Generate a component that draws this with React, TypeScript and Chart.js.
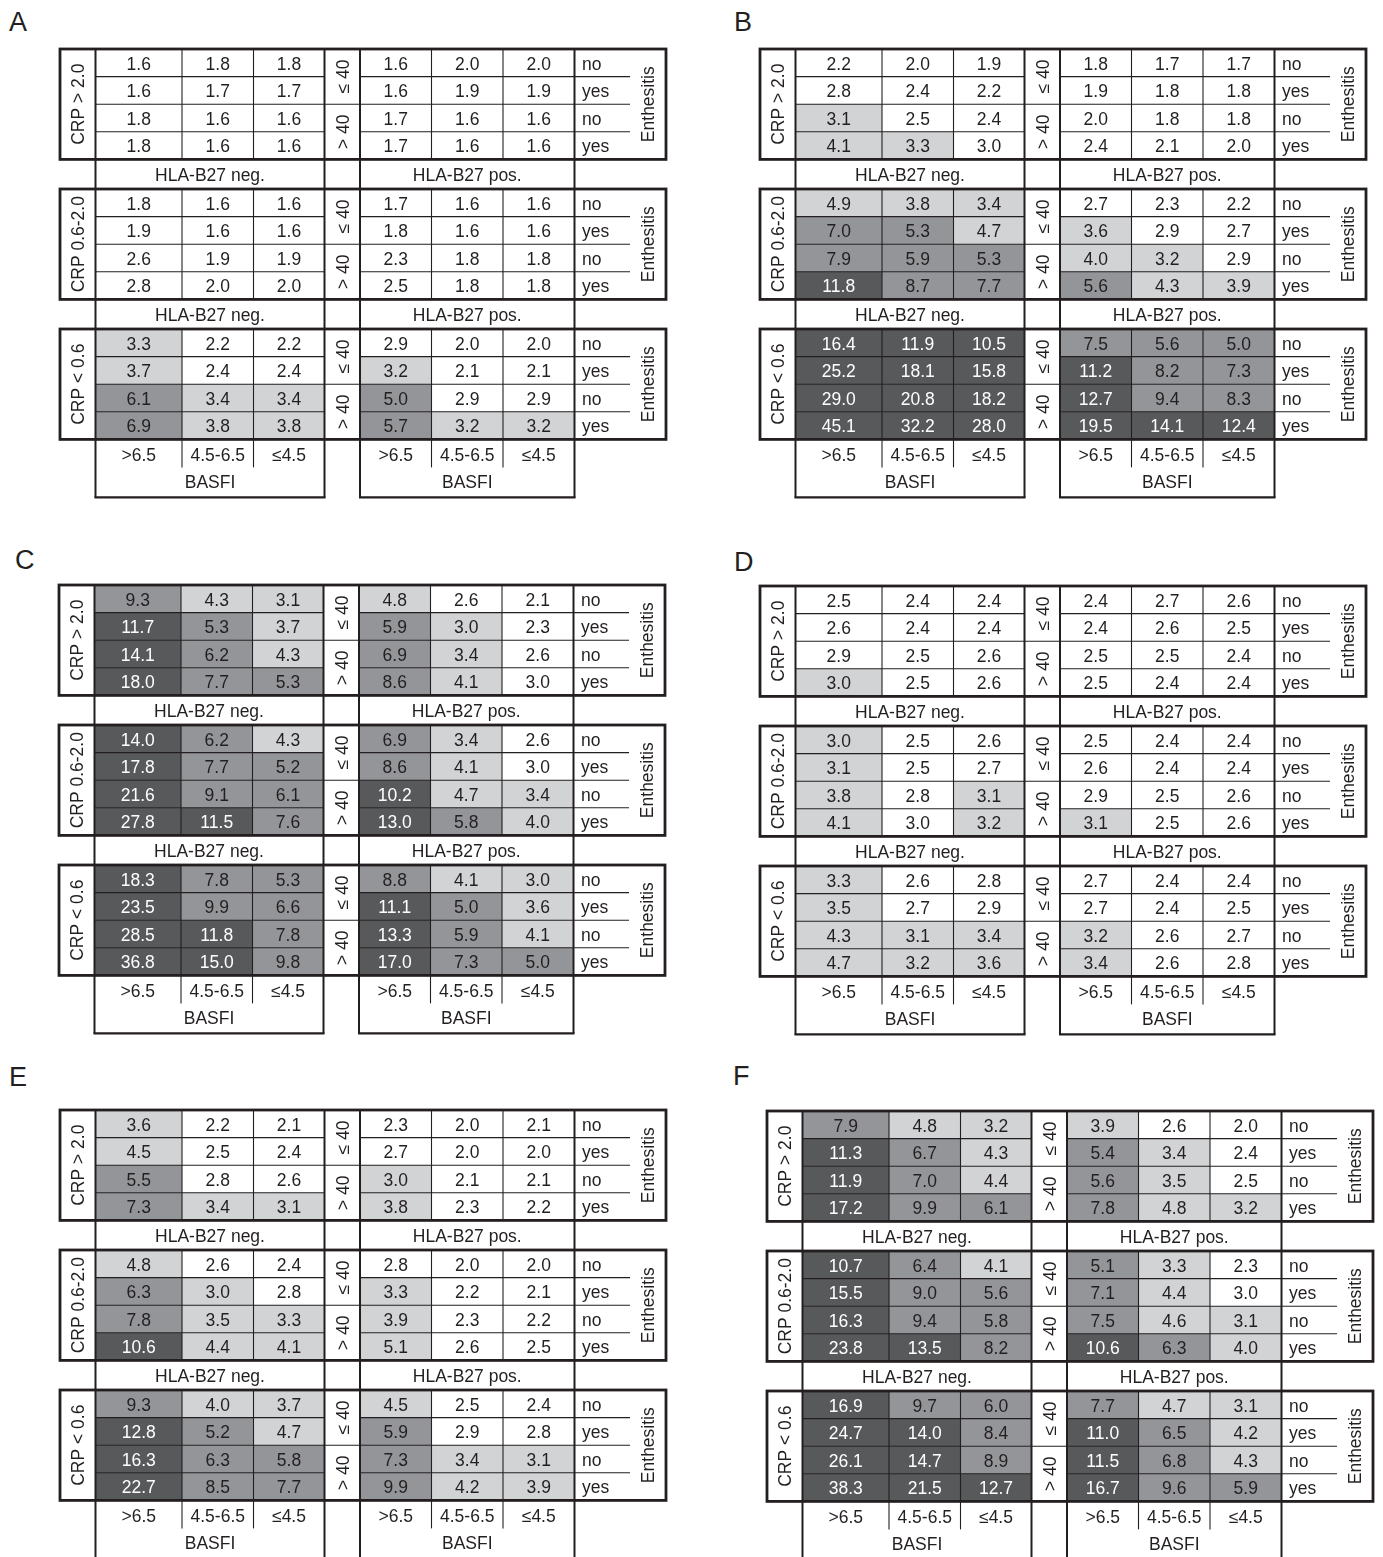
import React, { useEffect, useRef } from "react";
import { Chart, registerables } from "chart.js";

Chart.register(...registerables);

// ---------------- labels ----------------
const PANEL_LETTERS = ["A", "B", "C", "D", "E", "F"];
const CRP_LABELS = ["CRP > 2.0", "CRP 0.6-2.0", "CRP < 0.6"];
const HLA_LABELS = ["HLA-B27 neg.", "HLA-B27 pos."];
const AGE_LABELS = ["\u2264 40", "> 40"];
const ENTHESITIS_LABELS = ["no", "yes", "no", "yes"];
const ENTHESITIS_TITLE = "Enthesitis";
const BASFI_TICKS = [">6.5", "4.5-6.5", "\u22644.5"];
const BASFI_TITLE = "BASFI";

// ---------------- data ----------------
// 12 rows: CRP > 2.0 (4 rows), CRP 0.6-2.0 (4 rows), CRP < 0.6 (4 rows)
// rows within a block: age<=40 no, age<=40 yes, age>40 no, age>40 yes
// 6 columns: HLA-B27 neg (>6.5, 4.5-6.5, <=4.5), HLA-B27 pos (>6.5, 4.5-6.5, <=4.5)
const valuesA = [
  [1.6, 1.8, 1.8, 1.6, 2.0, 2.0],
  [1.6, 1.7, 1.7, 1.6, 1.9, 1.9],
  [1.8, 1.6, 1.6, 1.7, 1.6, 1.6],
  [1.8, 1.6, 1.6, 1.7, 1.6, 1.6],
  [1.8, 1.6, 1.6, 1.7, 1.6, 1.6],
  [1.9, 1.6, 1.6, 1.8, 1.6, 1.6],
  [2.6, 1.9, 1.9, 2.3, 1.8, 1.8],
  [2.8, 2.0, 2.0, 2.5, 1.8, 1.8],
  [3.3, 2.2, 2.2, 2.9, 2.0, 2.0],
  [3.7, 2.4, 2.4, 3.2, 2.1, 2.1],
  [6.1, 3.4, 3.4, 5.0, 2.9, 2.9],
  [6.9, 3.8, 3.8, 5.7, 3.2, 3.2],
];
const shadesA = ["000000", "000000", "000000", "000000", "000000", "000000", "000000", "000000", "100000", "100100", "211200", "211211"];

const valuesB = [
  [2.2, 2.0, 1.9, 1.8, 1.7, 1.7],
  [2.8, 2.4, 2.2, 1.9, 1.8, 1.8],
  [3.1, 2.5, 2.4, 2.0, 1.8, 1.8],
  [4.1, 3.3, 3.0, 2.4, 2.1, 2.0],
  [4.9, 3.8, 3.4, 2.7, 2.3, 2.2],
  [7.0, 5.3, 4.7, 3.6, 2.9, 2.7],
  [7.9, 5.9, 5.3, 4.0, 3.2, 2.9],
  [11.8, 8.7, 7.7, 5.6, 4.3, 3.9],
  [16.4, 11.9, 10.5, 7.5, 5.6, 5.0],
  [25.2, 18.1, 15.8, 11.2, 8.2, 7.3],
  [29.0, 20.8, 18.2, 12.7, 9.4, 8.3],
  [45.1, 32.2, 28.0, 19.5, 14.1, 12.4],
];
const shadesB = ["000000", "000000", "100000", "110000", "111000", "221100", "222110", "322211", "333222", "333322", "333322", "333333"];

const valuesC = [
  [9.3, 4.3, 3.1, 4.8, 2.6, 2.1],
  [11.7, 5.3, 3.7, 5.9, 3.0, 2.3],
  [14.1, 6.2, 4.3, 6.9, 3.4, 2.6],
  [18.0, 7.7, 5.3, 8.6, 4.1, 3.0],
  [14.0, 6.2, 4.3, 6.9, 3.4, 2.6],
  [17.8, 7.7, 5.2, 8.6, 4.1, 3.0],
  [21.6, 9.1, 6.1, 10.2, 4.7, 3.4],
  [27.8, 11.5, 7.6, 13.0, 5.8, 4.0],
  [18.3, 7.8, 5.3, 8.8, 4.1, 3.0],
  [23.5, 9.9, 6.6, 11.1, 5.0, 3.6],
  [28.5, 11.8, 7.8, 13.3, 5.9, 4.1],
  [36.8, 15.0, 9.8, 17.0, 7.3, 5.0],
];
const shadesC = ["211100", "321210", "321210", "322210", "321210", "322210", "322311", "332321", "322211", "322321", "332321", "332322"];

const valuesD = [
  [2.5, 2.4, 2.4, 2.4, 2.7, 2.6],
  [2.6, 2.4, 2.4, 2.4, 2.6, 2.5],
  [2.9, 2.5, 2.6, 2.5, 2.5, 2.4],
  [3.0, 2.5, 2.6, 2.5, 2.4, 2.4],
  [3.0, 2.5, 2.6, 2.5, 2.4, 2.4],
  [3.1, 2.5, 2.7, 2.6, 2.4, 2.4],
  [3.8, 2.8, 3.1, 2.9, 2.5, 2.6],
  [4.1, 3.0, 3.2, 3.1, 2.5, 2.6],
  [3.3, 2.6, 2.8, 2.7, 2.4, 2.4],
  [3.5, 2.7, 2.9, 2.7, 2.4, 2.5],
  [4.3, 3.1, 3.4, 3.2, 2.6, 2.7],
  [4.7, 3.2, 3.6, 3.4, 2.6, 2.8],
];
const shadesD = ["000000", "000000", "000000", "100000", "100000", "100000", "101000", "101100", "100000", "100000", "111100", "111100"];

const valuesE = [
  [3.6, 2.2, 2.1, 2.3, 2.0, 2.1],
  [4.5, 2.5, 2.4, 2.7, 2.0, 2.0],
  [5.5, 2.8, 2.6, 3.0, 2.1, 2.1],
  [7.3, 3.4, 3.1, 3.8, 2.3, 2.2],
  [4.8, 2.6, 2.4, 2.8, 2.0, 2.0],
  [6.3, 3.0, 2.8, 3.3, 2.2, 2.1],
  [7.8, 3.5, 3.3, 3.9, 2.3, 2.2],
  [10.6, 4.4, 4.1, 5.1, 2.6, 2.5],
  [9.3, 4.0, 3.7, 4.5, 2.5, 2.4],
  [12.8, 5.2, 4.7, 5.9, 2.9, 2.8],
  [16.3, 6.3, 5.8, 7.3, 3.4, 3.1],
  [22.7, 8.5, 7.7, 9.9, 4.2, 3.9],
];
const shadesE = ["100000", "100000", "200100", "211100", "100000", "210100", "211100", "311100", "211100", "321200", "322211", "322211"];

const valuesF = [
  [7.9, 4.8, 3.2, 3.9, 2.6, 2.0],
  [11.3, 6.7, 4.3, 5.4, 3.4, 2.4],
  [11.9, 7.0, 4.4, 5.6, 3.5, 2.5],
  [17.2, 9.9, 6.1, 7.8, 4.8, 3.2],
  [10.7, 6.4, 4.1, 5.1, 3.3, 2.3],
  [15.5, 9.0, 5.6, 7.1, 4.4, 3.0],
  [16.3, 9.4, 5.8, 7.5, 4.6, 3.1],
  [23.8, 13.5, 8.2, 10.6, 6.3, 4.0],
  [16.9, 9.7, 6.0, 7.7, 4.7, 3.1],
  [24.7, 14.0, 8.4, 11.0, 6.5, 4.2],
  [26.1, 14.7, 8.9, 11.5, 6.8, 4.3],
  [38.3, 21.5, 12.7, 16.7, 9.6, 5.9],
];
const shadesF = ["211100", "321210", "321210", "322211", "321210", "322210", "322211", "332321", "322211", "332321", "332321", "333322"];

const PANEL_VALUES = [valuesA, valuesB, valuesC, valuesD, valuesE, valuesF];
const PANEL_SHADES = [shadesA, shadesB, shadesC, shadesD, shadesE, shadesF];

// ---------------- layout / style ----------------
const SHADE_COLORS = ["#ffffff", "#d1d3d4", "#939598", "#58595b"];
const INK = "#231f20";
const FONT = '"Liberation Sans", Arial, Helvetica, sans-serif';
const FONT_SIZE = 17.5;
const LETTER_SIZE = 27;

// columns: CRP label | neg x3 | age | pos x3 | no/yes | Enthesitis
const COL_W = [35.5, 86.5, 71.5, 71, 35.5, 71.5, 71.5, 71.5, 55.5, 36];
const VALUE_COLS = [1, 2, 3, 5, 6, 7];
const ROW_H = 27.6;
const BAND_H = 29.6;
const TICK_H = 28;
const BASFI_H = 30;
const PAD = 6;
const TEXT_DY = 2;

const PANEL_ORIGINS = [
  [60, 49],
  [760, 49],
  [59, 585],
  [760, 586],
  [60, 1110],
  [767, 1111],
];
const LETTER_POS = [
  [9, 12],
  [734, 12],
  [15, 550],
  [734, 552],
  [9, 1067],
  [733, 1066],
];

const EDGES = COL_W.reduce((acc, w) => {
  acc.push(acc[acc.length - 1] + w);
  return acc;
}, [0] as number[]);
const TOTAL_W = EDGES[EDGES.length - 1];
const BLOCK_H = 4 * ROW_H;
const blockTop = (b: number) => b * (BLOCK_H + BAND_H);
const BLOCKS_END = blockTop(2) + BLOCK_H;
const TOTAL_H = BLOCKS_END + TICK_H + BASFI_H;
const CANVAS_W = Math.round(TOTAL_W + 2 * PAD);
const CANVAS_H = Math.round(TOTAL_H + 2 * PAD);

function buildPoints(p: number) {
  const vals = PANEL_VALUES[p];
  const shades = PANEL_SHADES[p];
  const pts: any[] = [];
  vals.forEach((row, ri) => {
    const b = Math.floor(ri / 4);
    const r = ri % 4;
    row.forEach((v, j) => {
      const col = VALUE_COLS[j];
      pts.push({
        x: (EDGES[col] + EDGES[col + 1]) / 2,
        y: blockTop(b) + (r + 0.5) * ROW_H,
        v,
        s: Number(shades[ri][j]),
        col,
        top: blockTop(b) + r * ROW_H,
      });
    });
  });
  return pts;
}

const tablePlugin = {
  id: "crpTable",
  afterDatasetsDraw(chart: any) {
    const ctx: CanvasRenderingContext2D = chart.ctx;
    const sx = chart.scales.x;
    const sy = chart.scales.y;
    const X = (u: number) => sx.getPixelForValue(u);
    const Y = (u: number) => sy.getPixelForValue(u);
    const pts = chart.data.datasets[0].data as any[];

    const line = (x1: number, y1: number, x2: number, y2: number, w: number) => {
      ctx.beginPath();
      ctx.moveTo(X(x1), Y(y1));
      ctx.lineTo(X(x2), Y(y2));
      ctx.lineWidth = w;
      ctx.strokeStyle = INK;
      ctx.stroke();
    };
    const text = (t: string, x: number, y: number, color: string, align: CanvasTextAlign = "center", rot = false) => {
      ctx.save();
      ctx.fillStyle = color;
      ctx.font = `${FONT_SIZE}px ${FONT}`;
      ctx.textAlign = align;
      ctx.textBaseline = "middle";
      if (rot) {
        ctx.translate(X(x) + 1.5, Y(y));
        ctx.rotate(-Math.PI / 2);
        ctx.fillText(t, 0, 0);
      } else {
        ctx.fillText(t, X(x), Y(y) + TEXT_DY);
      }
      ctx.restore();
    };

    ctx.save();
    // cell fills
    pts.forEach((pt) => {
      if (pt.s > 0) {
        ctx.fillStyle = SHADE_COLORS[pt.s];
        const x1 = X(EDGES[pt.col]);
        const x2 = X(EDGES[pt.col + 1]);
        const y1 = Y(pt.top);
        const y2 = Y(pt.top + ROW_H);
        ctx.fillRect(x1, y1, x2 - x1, y2 - y1);
      }
    });

    // thin inner lines
    for (let b = 0; b < 3; b++) {
      const t = blockTop(b);
      [2, 3, 6, 7].forEach((c) => line(EDGES[c], t, EDGES[c], t + BLOCK_H, 1.1));
      for (let r = 1; r < 4; r++) {
        const yy = t + r * ROW_H;
        line(EDGES[1], yy, EDGES[4], yy, 1.1);
        line(EDGES[5], yy, EDGES[9], yy, 1.1);
        if (r === 2) line(EDGES[4], yy, EDGES[5], yy, 1.1);
      }
    }
    // tick dividers in BASFI area
    [2, 3, 6, 7].forEach((c) => line(EDGES[c], BLOCKS_END, EDGES[c], BLOCKS_END + TICK_H, 1.1));
    // medium structural verticals
    [1, 4, 5, 8].forEach((c) => line(EDGES[c], 0, EDGES[c], TOTAL_H, 2));
    // BASFI box bottoms
    line(EDGES[1] - 1, TOTAL_H, EDGES[4] + 1, TOTAL_H, 2.2);
    line(EDGES[5] - 1, TOTAL_H, EDGES[8] + 1, TOTAL_H, 2.2);
    // thick block borders
    for (let b = 0; b < 3; b++) {
      const t = blockTop(b);
      ctx.lineWidth = 2.8;
      ctx.strokeStyle = INK;
      ctx.strokeRect(X(EDGES[0]), Y(t), X(EDGES[10]) - X(EDGES[0]), Y(t + BLOCK_H) - Y(t));
    }

    // values
    pts.forEach((pt) => {
      text(pt.v.toFixed(1), pt.x, pt.y, pt.s === 3 ? "#ffffff" : INK);
    });

    // block labels
    for (let b = 0; b < 3; b++) {
      const t = blockTop(b);
      text(CRP_LABELS[b], (EDGES[0] + EDGES[1]) / 2, t + BLOCK_H / 2, INK, "center", true);
      text(AGE_LABELS[0], (EDGES[4] + EDGES[5]) / 2, t + ROW_H, INK, "center", true);
      text(AGE_LABELS[1], (EDGES[4] + EDGES[5]) / 2, t + 3 * ROW_H, INK, "center", true);
      ENTHESITIS_LABELS.forEach((lab, r) => text(lab, EDGES[8] + 7.5, t + (r + 0.5) * ROW_H, INK, "left"));
      text(ENTHESITIS_TITLE, (EDGES[9] + EDGES[10]) / 2, t + BLOCK_H / 2, INK, "center", true);
      if (b < 2) {
        const by = t + BLOCK_H + BAND_H / 2;
        text(HLA_LABELS[0], (EDGES[1] + EDGES[4]) / 2, by, INK);
        text(HLA_LABELS[1], (EDGES[5] + EDGES[8]) / 2, by, INK);
      }
    }
    // BASFI ticks and titles
    [[1, 2, 3], [5, 6, 7]].forEach((cols, g) => {
      cols.forEach((c, k) => text(BASFI_TICKS[k], (EDGES[c] + EDGES[c + 1]) / 2, BLOCKS_END + TICK_H / 2 + 1, INK));
      const left = g === 0 ? EDGES[1] : EDGES[5];
      const right = g === 0 ? EDGES[4] : EDGES[8];
      text(BASFI_TITLE, (left + right) / 2, BLOCKS_END + TICK_H + BASFI_H / 2 - 1, INK);
    });
    ctx.restore();
  },
};

function Panel({ index }: { index: number }) {
  const ref = useRef<HTMLCanvasElement | null>(null);
  useEffect(() => {
    if (!ref.current) return;
    const chart = new Chart(ref.current, {
      type: "scatter",
      data: {
        datasets: [
          {
            data: buildPoints(index),
            pointRadius: 0,
            showLine: false,
          } as any,
        ],
      },
      options: {
        animation: false,
        responsive: false,
        maintainAspectRatio: false,
        events: [],
        layout: { padding: 0 },
        plugins: {
          legend: { display: false },
          tooltip: { enabled: false },
          title: { display: false },
        },
        scales: {
          x: { type: "linear", display: false, min: -PAD, max: CANVAS_W - PAD },
          y: { type: "linear", display: false, reverse: true, min: -PAD, max: CANVAS_H - PAD },
        },
      },
      plugins: [tablePlugin],
    });
    return () => chart.destroy();
  }, [index]);
  const [ox, oy] = PANEL_ORIGINS[index];
  return (
    <canvas
      ref={ref}
      width={CANVAS_W}
      height={CANVAS_H}
      style={{ position: "absolute", left: ox - PAD, top: oy - PAD, width: CANVAS_W, height: CANVAS_H }}
    />
  );
}

export default function App() {
  return (
    <div
      style={{
        position: "fixed",
        left: 0,
        top: 0,
        width: 1383,
        height: 1557,
        overflow: "hidden",
        background: "#ffffff",
      }}
    >
      {PANEL_LETTERS.map((L, i) => (
        <div
          key={L}
          style={{
            position: "absolute",
            left: LETTER_POS[i][0],
            top: LETTER_POS[i][1] - 3.5,
            fontFamily: FONT,
            fontSize: LETTER_SIZE,
            lineHeight: `${LETTER_SIZE}px`,
            color: INK,
          }}
        >
          {L}
        </div>
      ))}
      {PANEL_LETTERS.map((L, i) => (
        <Panel key={L} index={i} />
      ))}
    </div>
  );
}
